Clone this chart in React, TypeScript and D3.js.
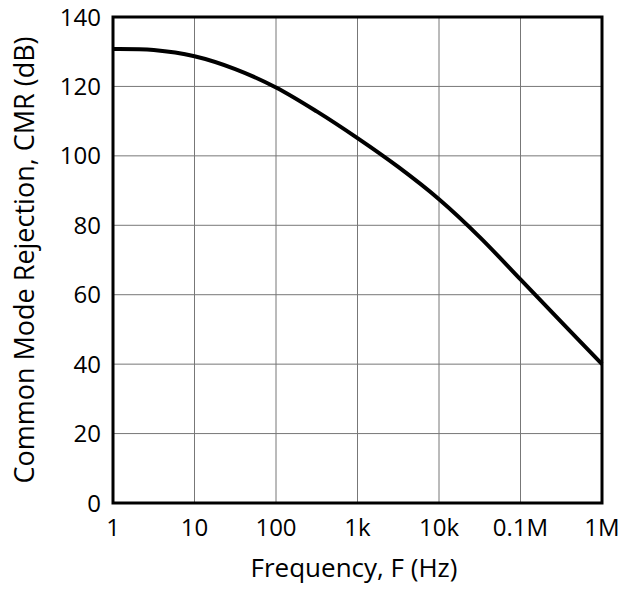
import React from "react";
import * as d3 from "d3";

const freqs = [1, 3.16, 10, 31.6, 100, 316, 1000, 3160, 10000, 31600, 100000, 316000, 1000000];
const cmrDb = [130.8, 130.5, 128.7, 125.0, 119.7, 112.8, 105.1, 96.8, 87.5, 76.6, 64.4, 52.2, 40.0];
const xTicks = [1, 10, 100, 1000, 10000, 100000, 1000000];
const xTickLabels = ["1", "10", "100", "1k", "10k", "0.1M", "1M"];
const yTicks = [0, 20, 40, 60, 80, 100, 120, 140];

const W = 635, H = 590;
const L = 113, R = 602, T = 17, B = 503;
const FONT = "'Open Sans', sans-serif";

export default function App() {
  const x = d3.scaleLog().domain([1, 1e6]).range([L, R]);
  const y = d3.scaleLinear().domain([0, 140]).range([B, T]);
  const pts = freqs.map((f, i) => [f, cmrDb[i]] as [number, number]);
  const line = d3.line<[number, number]>().x(d => x(d[0])).y(d => y(d[1])).curve(d3.curveCatmullRom.alpha(0.5));
  return (
    <svg width={W} height={H} style={{ position: "absolute", left: 0, top: 0, background: "#fff" }}>
      <rect x={0} y={0} width={W} height={H} fill="#fff" />
      {xTicks.slice(1, -1).map(t => (
        <line key={"vx" + t} x1={x(t)} x2={x(t)} y1={T} y2={B} stroke="#777" strokeWidth={1} />
      ))}
      {yTicks.slice(1, -1).map(t => (
        <line key={"hy" + t} x1={L} x2={R} y1={y(t)} y2={y(t)} stroke="#777" strokeWidth={1} />
      ))}
      <path d={line(pts) || ""} fill="none" stroke="#000" strokeWidth={4} strokeLinejoin="round" />
      <rect x={L} y={T} width={R - L} height={B - T} fill="none" stroke="#000" strokeWidth={3} />
      {yTicks.map(t => (
        <text key={"yl" + t} x={L - 12} y={y(t) + 8.5} textAnchor="end" fontFamily={FONT} fontSize={24} fill="#000">{t}</text>
      ))}
      {xTicks.map((t, i) => (
        <text key={"xl" + t} x={x(t)} y={535.5} textAnchor="middle" fontFamily={FONT} fontSize={24} fill="#000">{xTickLabels[i]}</text>
      ))}
      <text x={354} y={577} textAnchor="middle" fontFamily={FONT} fontSize={26} fill="#000">Frequency, F (Hz)</text>
      <text transform={`translate(34, 260) rotate(-90)`} textAnchor="middle" fontFamily={FONT} fontSize={27} fill="#000">Common Mode Rejection, CMR (dB)</text>
    </svg>
  );
}
